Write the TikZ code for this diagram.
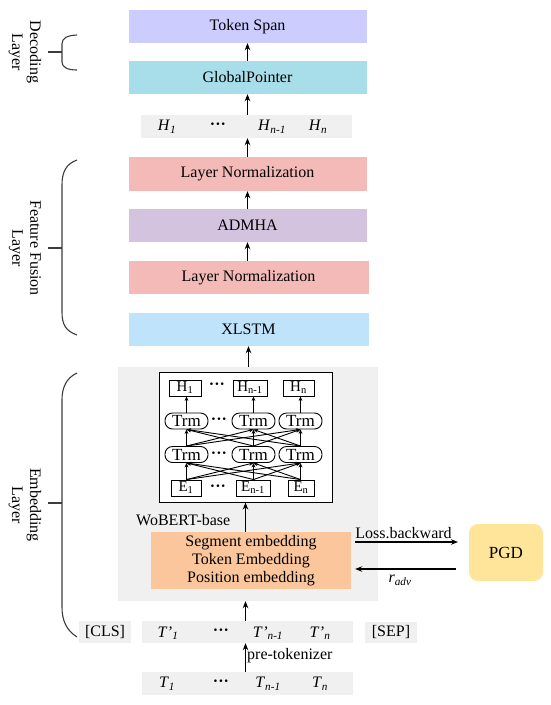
\documentclass[tikz,border=0pt]{standalone}
\usepackage{fontspec}
\setmainfont{Liberation Serif}
\usetikzlibrary{arrows.meta}
\definecolor{cspan}{RGB}{204,204,255}
\definecolor{cgp}{RGB}{167,222,233}
\definecolor{cln}{RGB}{244,186,183}
\definecolor{cadm}{RGB}{211,195,222}
\definecolor{cxl}{RGB}{190,227,250}
\definecolor{cgray}{RGB}{240,240,240}
\definecolor{corange}{RGB}{251,198,155}
\definecolor{cpgd}{RGB}{255,229,153}
\definecolor{cbrace}{RGB}{60,60,60}
\newcommand{\mydots}{\textbf{\char"00B7\char"00B7\char"00B7}}
\tikzset{
  fillbox/.style={rectangle, inner sep=0pt, anchor=center, font=\rmfamily\fontsize{16}{18}\selectfont},
  arr/.style={-{Stealth[length=7pt,width=5.5pt]}, line width=1.4pt, black},
  tarr/.style={-{Stealth[length=4.5pt,width=3.8pt]}, line width=0.9pt, black},
  inbox/.style={draw, line width=0.9pt, rectangle, inner sep=0pt, minimum height=16pt, font=\fontsize{15}{16}\selectfont},
  trm/.style={draw, line width=0.9pt, rectangle, rounded corners=7.5pt, inner sep=0pt, minimum width=43pt, minimum height=16pt, font=\fontsize{17}{17}\selectfont},
  txt/.style={inner sep=0pt, font=\fontsize{16}{18}\selectfont},
  bracel/.style={line width=1.1pt, cbrace},
  sidelab/.style={rotate=-90, align=center, inner sep=0pt, font=\fontsize{16}{18}\selectfont},
  dots/.style={inner sep=0pt, font=\fontsize{16}{18}\selectfont}
}
\begin{document}
\begin{tikzpicture}[x=1pt,y=-1pt]
\useasboundingbox (0,0) rectangle (550,705);
\fill[white] (0,0) rectangle (550,705);

% main column
\node[fillbox, fill=cspan, minimum width=238pt, minimum height=33pt] (ts) at (247.5,26.5) {Token Span};
\node[fillbox, fill=cgp, minimum width=238pt, minimum height=33pt] (gp) at (247.5,77.5) {GlobalPointer};
\node[fillbox, fill=cgray, minimum width=211pt, minimum height=23pt] (hrow) at (246.5,126.5) {};
\node[txt] (hr1) at (167,127) {\textit{H}\textsubscript{\textit{1}}};
\node[dots] (hrd) at (218,126) {\mydots};
\node[txt] (hr2) at (272,127) {\textit{H}\textsubscript{\textit{n-1}}};
\node[txt] (hr3) at (318,127) {\textit{H}\textsubscript{\textit{n}}};
\node[fillbox, fill=cln, minimum width=238pt, minimum height=34pt] (ln1) at (247.5,174) {Layer Normalization};
\node[fillbox, fill=cadm, minimum width=238pt, minimum height=33pt] (adm) at (247.5,225.5) {ADMHA};
\node[fillbox, fill=cln, minimum width=240pt, minimum height=33pt] (ln2) at (248.5,277.5) {Layer Normalization};
\node[fillbox, fill=cxl, minimum width=240pt, minimum height=33pt] (xl) at (248.5,329.5) {XLSTM};

% embedding area
\node[fillbox, fill=cgray, minimum width=260pt, minimum height=234pt] (emb) at (248,484) {};
\node[draw, line width=1pt, fill=white, rectangle, inner sep=0pt, minimum width=173pt, minimum height=130pt] (bert) at (245.5,437) {};
\node[txt, anchor=west] (wob) at (136,520) {WoBERT-base};
\node[fillbox, fill=corange, minimum width=200pt, minimum height=57pt, align=center] (orange) at (251,560.5) {Segment embedding\\Token Embedding\\Position embedding};
\node[fillbox, fill=cpgd, rounded corners=9pt, minimum width=74pt, minimum height=57pt, font=\rmfamily\fontsize{17}{18}\selectfont] (pgd) at (506,552.5) {PGD};

% inner BERT
\node[inbox, minimum width=32pt] (h1) at (185,388) {H\textsubscript{1}};
\node[inbox, minimum width=34pt] (h2) at (250,388) {H\textsubscript{n-1}};
\node[inbox, minimum width=31pt] (h3) at (298.5,388) {H\textsubscript{n}};
\node[dots] (hd) at (217,386) {\mydots};
\node[trm] (a1) at (186.5,421) {Trm};
\node[trm] (a2) at (253.5,421) {Trm};
\node[trm] (a3) at (300.5,421) {Trm};
\node[dots] (ad) at (219,421) {\mydots};
\node[trm] (b1) at (186.5,454.5) {Trm};
\node[trm] (b2) at (253.5,454.5) {Trm};
\node[trm] (b3) at (300.5,454.5) {Trm};
\node[dots] (bd) at (219,455) {\mydots};
\node[inbox, minimum width=30pt] (e1) at (186,488) {E\textsubscript{1}};
\node[inbox, minimum width=34pt] (e2) at (253,488) {E\textsubscript{n-1}};
\node[inbox, minimum width=26pt] (e3) at (301,488) {E\textsubscript{n}};
\node[dots] (ed) at (218,488) {\mydots};

\foreach \i in {1,2,3}{
  \draw[tarr] (a\i.north) -- (a\i.north |- h\i.south);
  \foreach \j in {1,2,3}{
    \draw[tarr] (b\j.north) -- (a\i.south);
    \draw[tarr] (e\j.north -| b\j.south) -- (b\i.south);
  }
}

% bottom rows
\node[fillbox, fill=cgray, minimum width=52pt, minimum height=22pt] (cls) at (105,632) {[CLS]};
\node[fillbox, fill=cgray, minimum width=211pt, minimum height=22pt] (tp) at (247.5,632) {};
\node[txt] (tp1) at (168,633) {\textit{T\kern0.5pt'}\textsubscript{\textit{1}}};
\node[dots] (tpd) at (221,632) {\mydots};
\node[txt] (tp2) at (268,633) {\textit{T\kern0.5pt'}\textsubscript{\textit{n-1}}};
\node[txt] (tp3) at (320,633) {\textit{T\kern0.5pt'}\textsubscript{\textit{n}}};
\node[fillbox, fill=cgray, minimum width=52pt, minimum height=21pt] (sep) at (391,632.5) {[SEP]};
\node[fillbox, fill=cgray, minimum width=211pt, minimum height=23pt] (trow) at (247.5,683.5) {};
\node[txt] (t1) at (167,684) {\textit{T}\textsubscript{\textit{1}}};
\node[dots] (td) at (221,683) {\mydots};
\node[txt] (t2) at (268,684) {\textit{T}\textsubscript{\textit{n-1}}};
\node[txt] (t3) at (320,684) {\textit{T}\textsubscript{\textit{n}}};

% main arrows
\draw[arr] (gp.north) -- (ts.south);
\draw[arr] (hrow.north -| gp.south) -- (gp.south);
\draw[arr] (ln1.north) -- (ln1.north |- hrow.south);
\draw[arr] (adm.north) -- (ln1.south);
\draw[arr] (ln2.north -| adm.south) -- (adm.south);
\draw[arr] (emb.north -| xl.south) -- (xl.south);
\draw[arr] (orange.north -| bert.south) -- (bert.south);
\draw[arr] (tp.north -| bert.south) -- (bert.south |- emb.south);
\draw[arr] (trow.north -| bert.south) -- (bert.south |- tp.south) node[pos=0.55, right=1pt, txt] (pretok) {pre-tokenizer};

% PGD arrows
\coordinate (lb) at (458,542);
\coordinate (ra) at (456,569);
\draw[arr, shorten <=4pt] (orange.east |- lb) -- (lb);
\draw[arr, shorten >=4pt] (ra) -- (orange.east |- ra);
\node[txt] (losslab) at (403.5,533) {Loss.backward};
\node[txt] (radv) at (400,580) {\textit{r}\textsubscript{\textit{adv}}};

% braces
\draw[bracel] (77,35) .. controls (67,35.5) and (62,38) .. (62,44) -- (62,62) .. controls (62,67) and (67,70) .. (77,70);
\draw[bracel] (48,52) -- (62,52);
\draw[bracel] (77,160) .. controls (66,164) and (62,172) .. (62,185) -- (62,312) .. controls (62,325) and (66,331) .. (77,335);
\draw[bracel] (48,248) -- (62,248);
\draw[bracel] (77,373) .. controls (66,378) and (62,388) .. (62,400) -- (62,607) .. controls (62,620) and (66,630) .. (77,637);
\draw[bracel] (48,503) -- (62,503);

\node[sidelab] (lab1) at (25,52) {Decoding\\Layer};
\node[sidelab] (lab2) at (25,248) {Feature Fusion\\Layer};
\node[sidelab] (lab3) at (25,505) {Embedding\\Layer};
\end{tikzpicture}
\end{document}
